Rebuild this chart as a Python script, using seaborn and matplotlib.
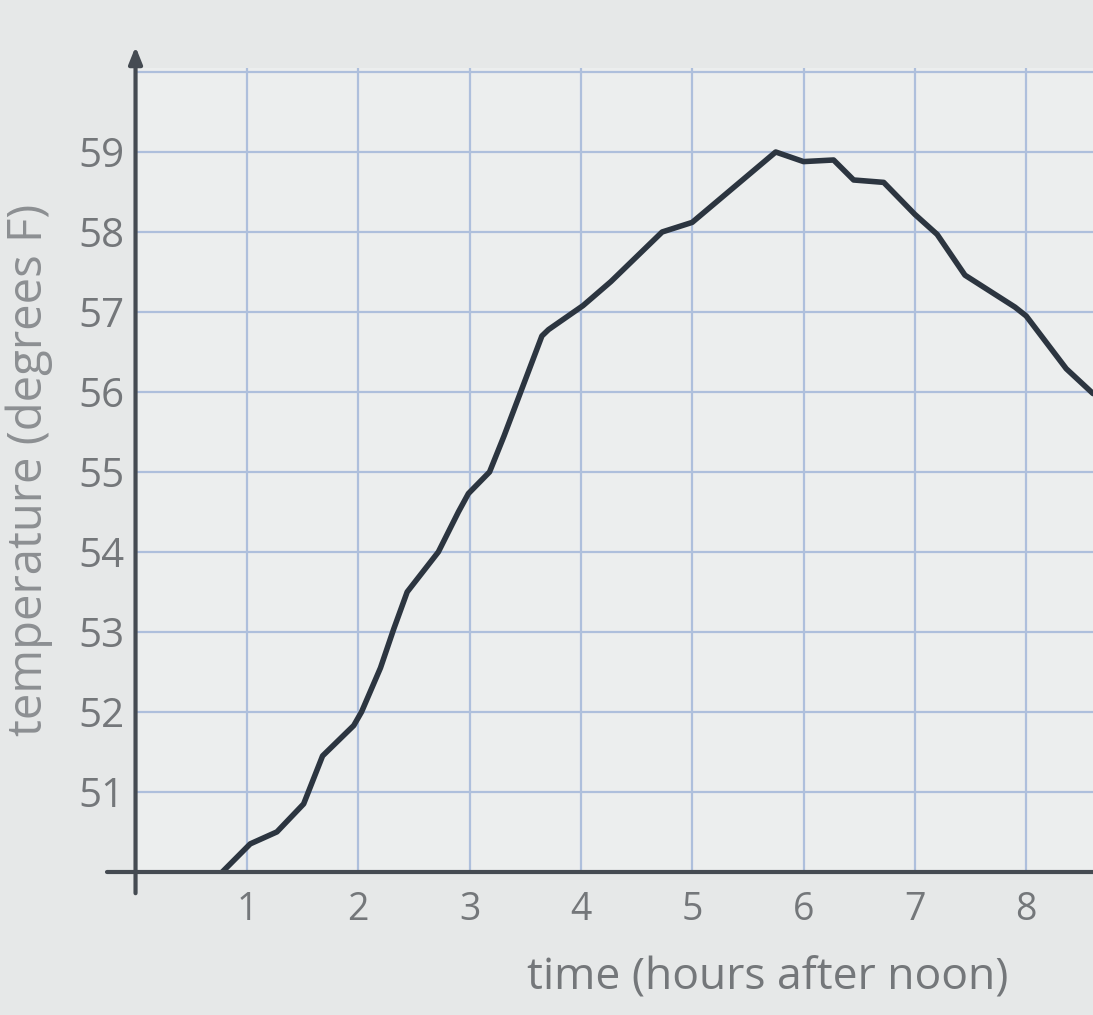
import matplotlib
matplotlib.use("Agg")
import matplotlib.pyplot as plt
import seaborn as sns
import pandas as pd

# --- data ---
hours = [0.78, 1.03, 1.27, 1.51, 1.68, 1.96, 2.03, 2.2, 2.32, 2.44, 2.72, 2.9,
         2.99, 3.18, 3.31, 3.65, 3.71, 4.02, 4.27, 4.73, 5.0, 5.75, 6.0, 6.27,
         6.45, 6.72, 7.0, 7.2, 7.45, 7.9, 8.0, 8.36, 8.6]
temps = [50.0, 50.35, 50.5, 50.85, 51.45, 51.83, 52.0, 52.55, 53.04, 53.5, 54.0, 54.5,
         54.73, 55.0, 55.45, 56.7, 56.78, 57.08, 57.38, 58.0, 58.12, 59.0, 58.88, 58.9,
         58.65, 58.62, 58.22, 57.97, 57.46, 57.06, 56.95, 56.29, 55.98]
x_ticks = [1, 2, 3, 4, 5, 6, 7, 8]
y_ticks = [51, 52, 53, 54, 55, 56, 57, 58, 59]

df = pd.DataFrame({"time": hours, "temperature": temps})

sns.set_style("white")
plt.rcParams["font.family"] = ["Open Sans", "DejaVu Sans"]

fig = plt.figure(figsize=(10.93, 10.15), dpi=100)
fig.patch.set_facecolor("#e6e8e8")
ax = fig.add_axes([0.124, 0.141, 0.876, 0.792])
ax.set_facecolor("#eceeee")

# grid
grid_col = "#aebfdc"
for gx in x_ticks:
    ax.axvline(gx, color=grid_col, lw=1.6, zorder=1)
for gy in y_ticks + [60]:
    ax.axhline(gy, color=grid_col, lw=1.6, zorder=1)

sns.lineplot(data=df, x="time", y="temperature", ax=ax, color="#2c3540",
             lw=4, zorder=3, sort=False)

ax.set_xlim(0, 8.6)
ax.set_ylim(50, 60.05)
ax.set_xticks(x_ticks)
ax.set_yticks(y_ticks)
ax.tick_params(axis="both", length=0, labelcolor="#74777a")
ax.tick_params(axis="y", pad=8, labelsize=29)
ax.tick_params(axis="x", pad=14, labelsize=27)

for s in ax.spines.values():
    s.set_visible(False)

# axis lines with y arrow
axis_col = "#454b52"
ax.annotate("", xy=(0, 1.03), xytext=(0, -0.03), xycoords="axes fraction",
            arrowprops=dict(arrowstyle="-|>,head_length=1.0,head_width=0.4",
                            color=axis_col, lw=3), annotation_clip=False)
ax.plot([-0.03, 1], [0, 0], transform=ax.transAxes, color=axis_col, lw=3,
        clip_on=False, zorder=4)

ax.set_xlabel("time (hours after noon)", fontsize=32, color="#74777a")
ax.set_ylabel("temperature (degrees F)", fontsize=34, color="#8c8f92")
ax.yaxis.set_label_coords(-0.086, 0.5)
ax.xaxis.set_label_coords(0.66, -0.105)

fig.savefig("out.png", dpi=100, facecolor=fig.get_facecolor())
